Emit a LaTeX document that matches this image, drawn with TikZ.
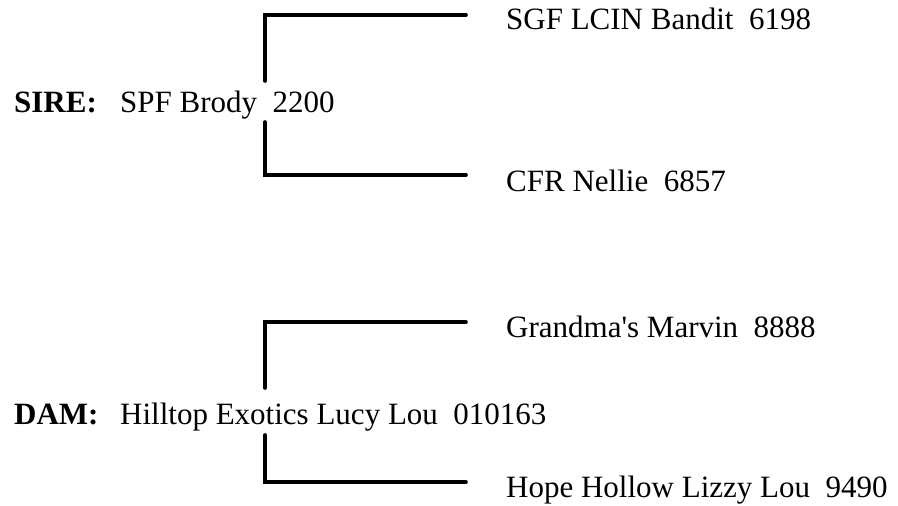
\documentclass[tikz,border=0pt]{standalone}
\usepackage{fontspec}
\setmainfont{Liberation Serif}
\begin{document}
\begin{tikzpicture}[x=1pt,y=-1pt,
  lbl/.style={anchor=base west,inner sep=0pt,font=\fontsize{31}{36}\selectfont},
  tag/.style={anchor=base west,inner sep=0pt,font=\fontsize{31}{36}\selectfont\bfseries},
  bracket/.style={line width=3.6pt,line cap=round,line join=miter}]
\useasboundingbox (0,0) rectangle (898,506);
% texts
\node[tag] (sire) at (14,112) {SIRE:};
\node[lbl] (sname) at (120,112) {SPF Brody~ 2200};
\node[lbl] (s1) at (506,30) {SGF LCIN Bandit~ 6198};
\node[lbl] (s2) at (506,191) {CFR Nellie~ 6857};
\node[tag] (dam) at (14,424) {DAM:};
\node[lbl] (dname) at (120,424) {Hilltop Exotics Lucy Lou~ 010163};
\node[lbl] (d1) at (506,337) {Grandma\textquotesingle s Marvin~ 8888};
\node[lbl] (d2) at (506,497) {Hope Hollow Lizzy Lou~ 9490};
% sire bracket
\coordinate (sa) at (265,81);
\coordinate (sb) at (265,15);
\coordinate (sc) at (466,15);
\coordinate (sd) at (265,122);
\coordinate (se) at (265,175);
\coordinate (sf) at (466,175);
\draw[bracket] (sa) -- (sb) -- (sc);
\draw[bracket] (sd) -- (se) -- (sf);
% dam bracket
\coordinate (da) at (265,388);
\coordinate (db) at (265,322);
\coordinate (dc) at (466,322);
\coordinate (dd) at (265,435);
\coordinate (de) at (265,482);
\coordinate (df) at (466,482);
\draw[bracket] (da) -- (db) -- (dc);
\draw[bracket] (dd) -- (de) -- (df);
\end{tikzpicture}
\end{document}
